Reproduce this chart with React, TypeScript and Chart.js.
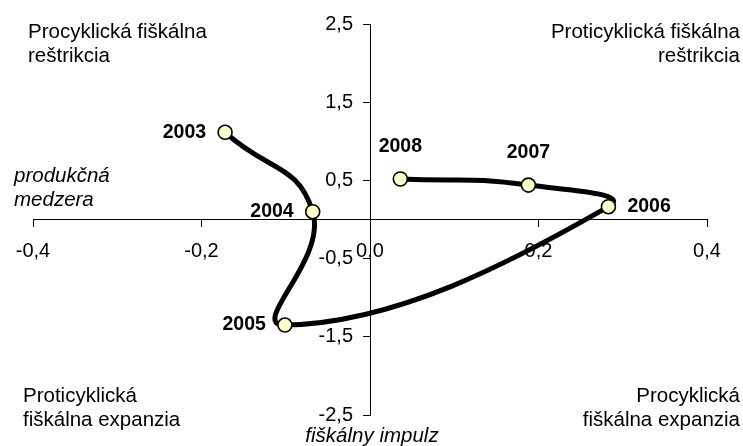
import React, { useEffect, useRef } from 'react';
import { Chart, registerables } from 'chart.js';

Chart.register(...registerables);

// ---- data ----
const years = ['2003', '2004', '2005', '2006', '2007', '2008'];
const fiscalImpulse = [-0.172, -0.068, -0.101, 0.283, 0.188, 0.036];
const outputGap = [1.115, 0.1, -1.35, 0.164, 0.44, 0.518];
const xTickValues = [-0.4, -0.2, 0, 0.2, 0.4];
const yTickValues = [-2.5, -1.5, -0.5, 0.5, 1.5, 2.5];

// ---- texts ----
const topLeftText = ['Procyklická fiškálna', 'reštrikcia'];
const topRightText = ['Proticyklická fiškálna', 'reštrikcia'];
const bottomLeftText = ['Proticyklická', 'fiškálna expanzia'];
const bottomRightText = ['Procyklická', 'fiškálna expanzia'];
const yAxisTitle = ['produkčná', 'medzera'];
const xAxisTitle = 'fiškálny impulz';

// label side for each year label
const labelSides = ['left', 'left', 'left', 'right', 'above', 'above'];

const FONT = '"Liberation Sans", Arial, Helvetica, sans-serif';
const Y_LABEL_GAP = 17;

const fmt = (v: number) => Number(v).toFixed(1).replace('.', ',').replace('-0,0', '0,0');

// y-axis labels of a value-positioned axis sit flush on the axis line; move them left of the ticks
const yLabelGapPlugin = {
  id: 'yLabelGap',
  beforeDraw(chart: any) {
    const items = chart.scales.y.getLabelItems();
    items.forEach((it: any) => {
      if (!it._shifted) {
        it.options.translation[0] -= Y_LABEL_GAP;
        it._shifted = true;
      }
    });
  },
};

const yearLabelsPlugin = {
  id: 'yearLabels',
  afterDatasetsDraw(chart: any) {
    const ctx = chart.ctx;
    const meta = chart.getDatasetMeta(0);
    ctx.save();
    ctx.fillStyle = '#000';
    ctx.font = `bold 19.5px ${FONT}`;
    meta.data.forEach((pt: any, i: number) => {
      const side = labelSides[i];
      let x = pt.x;
      let y = pt.y;
      ctx.textBaseline = 'middle';
      if (side === 'left') {
        ctx.textAlign = 'right';
        x -= 19;
      } else if (side === 'right') {
        ctx.textAlign = 'left';
        x += 19;
      } else {
        ctx.textAlign = 'center';
        y -= 32;
      }
      ctx.fillText(years[i], x, y);
    });
    ctx.restore();
  },
};

const annotationsPlugin = {
  id: 'annotations',
  afterDraw(chart: any) {
    const ctx = chart.ctx;
    const W = chart.width;
    ctx.save();
    ctx.fillStyle = '#000';
    ctx.textBaseline = 'alphabetic';
    ctx.font = `20.5px ${FONT}`;
    const lh = 24;
    const drawLines = (lines: string[], x: number, y: number, align: CanvasTextAlign) => {
      ctx.textAlign = align;
      lines.forEach((t, i) => ctx.fillText(t, x, y + i * lh));
    };
    drawLines(topLeftText, 28, 38, 'left');
    drawLines(topRightText, W - 3, 38, 'right');
    drawLines(bottomLeftText, 23, 402, 'left');
    drawLines(bottomRightText, W - 3, 402, 'right');
    ctx.font = `italic 20.5px ${FONT}`;
    drawLines(yAxisTitle, 14, 182, 'left');
    const xs = chart.scales.x.getPixelForValue(0);
    ctx.textAlign = 'center';
    ctx.fillText(xAxisTitle, xs + 2, 442);
    ctx.restore();
  },
};

export default function App() {
  const ref = useRef<HTMLCanvasElement | null>(null);

  useEffect(() => {
    if (!ref.current) return;
    const chart = new Chart(ref.current, {
      type: 'scatter',
      data: {
        datasets: [
          {
            label: 'Fiškálna politika',
            data: fiscalImpulse.map((x, i) => ({ x, y: outputGap[i] })),
            showLine: true,
            borderColor: '#000',
            borderWidth: 5,
            tension: 0.5,
            pointRadius: 7,
            pointHoverRadius: 7,
            pointBackgroundColor: '#FFFFCC',
            pointBorderColor: '#000',
            pointBorderWidth: 1.6,
            clip: false,
          } as any,
        ],
      },
      options: {
        animation: false,
        responsive: true,
        maintainAspectRatio: false,
        events: [],
        layout: { padding: { left: 33, right: 36, top: 24, bottom: 31 } },
        plugins: {
          legend: { display: false },
          tooltip: { enabled: false },
        },
        scales: {
          x: {
            type: 'linear',
            min: -0.4,
            max: 0.4,
            position: { y: 0 } as any,
            afterFit: (s: any) => {
              s.height = 0;
            },
            afterBuildTicks: (s: any) => {
              s.ticks = xTickValues.map((v) => ({ value: v }));
            },
            ticks: {
              callback: (v: any) => fmt(v),
              color: '#000',
              font: { family: FONT, size: 20 },
              padding: 13,
              maxRotation: 0,
              autoSkip: false,
            },
            grid: { display: true, drawOnChartArea: false, drawTicks: true, tickLength: 7, color: '#000' },
            border: { display: true, color: '#000', width: 1 },
          },
          y: {
            type: 'linear',
            min: -2.5,
            max: 2.5,
            position: { x: 0 } as any,
            afterFit: (s: any) => {
              s.width = 0;
            },
            afterBuildTicks: (s: any) => {
              s.ticks = yTickValues.map((v) => ({ value: v }));
            },
            ticks: {
              callback: (v: any) => fmt(v),
              color: '#000',
              font: { family: FONT, size: 20 },
              padding: 10,
              autoSkip: false,
            },
            grid: { display: true, drawOnChartArea: false, drawTicks: true, tickLength: 7, color: '#000' },
            border: { display: true, color: '#000', width: 1 },
          },
        },
      },
      plugins: [yLabelGapPlugin, yearLabelsPlugin, annotationsPlugin],
    });
    return () => chart.destroy();
  }, []);

  return (
    <div style={{ position: 'fixed', left: 0, top: 0, width: 743, height: 446, background: '#fff' }}>
      <canvas ref={ref} />
    </div>
  );
}
